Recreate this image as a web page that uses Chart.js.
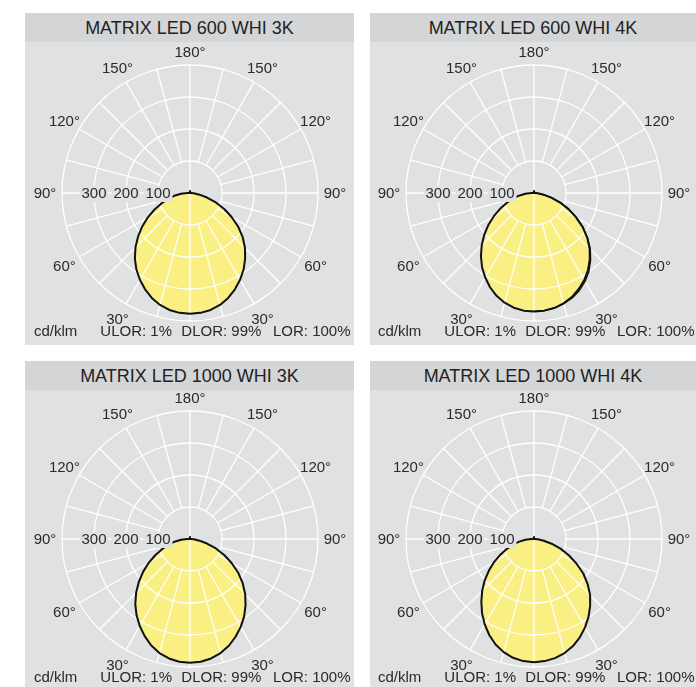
<!DOCTYPE html>
<html><head><meta charset="utf-8">
<script src="https://cdn.jsdelivr.net/npm/chart.js@4.4.1/dist/chart.umd.min.js"></script>
<style>
html,body{margin:0;padding:0;width:696px;height:687px;overflow:hidden;background:#fff;font-family:'Liberation Sans',Arial,sans-serif;}
.panel{position:absolute;background:#e0e1e3;}
.title{position:absolute;left:0;top:0;right:0;height:29px;background:#d4d5d7;color:#222;font-size:18px;line-height:30px;text-align:center;white-space:nowrap;}
canvas{position:absolute;}
</style></head><body>
<div class="panel" style="left:25px;top:13px;width:329px;height:332px"><div class="title" id="t1"></div></div>
<div class="panel" style="left:370px;top:13px;width:326px;height:332px"><div class="title" id="t2"></div></div>
<div class="panel" style="left:25px;top:361px;width:329px;height:326px"><div class="title" id="t3"></div></div>
<div class="panel" style="left:370px;top:361px;width:326px;height:326px"><div class="title" id="t4"></div></div>
<canvas id="c1" width="330" height="330" style="left:25px;top:28px"></canvas>
<canvas id="c2" width="330" height="330" style="left:369px;top:28px"></canvas>
<canvas id="c3" width="330" height="330" style="left:25px;top:374px"></canvas>
<canvas id="c4" width="330" height="330" style="left:369px;top:374px"></canvas>
<script>
// ---- data (cd/klm) ----
const titles = ['MATRIX LED 600 WHI 3K','MATRIX LED 600 WHI 4K','MATRIX LED 1000 WHI 3K','MATRIX LED 1000 WHI 4K'];
const gammaDeg = [0,5,10,15,20,25,30,35,40,45,50,55,60,65,70,75,80,85,90,95,100,105,110,115,120,125,130,135,140,145,150,155,160,165,170,175,180];

const p600_3K_left  = [377,376,371,362,349,332,313,292,268,241,212,182,152,122,95,72,50,28,8,0,0,0,0,0,0,0,0,0,0,0,0,0,0,0,0,0,6];
const p600_3K_right = [377,376,371,362,349,332,313,292,268,243,215,184,150,118,86,55,30,12,3,0,0,0,0,0,0,0,0,0,0,0,0,0,0,0,0,0,6];

const p600_4K_left   = [370,369,364,355,342,325,305,283,258,231,203,174,145,117,91,69,48,27,8,0,0,0,0,0,0,0,0,0,0,0,0,0,0,0,0,0,6];
const p600_4K_right  = [370,369,365,357,346,331,314,294,271,246,217,186,152,119,87,56,30,12,3,0,0,0,0,0,0,0,0,0,0,0,0,0,0,0,0,0,6];
const p600_4K_right2 = [370,369,365,358,349,336,319,299,275,249,218,186,152,119,87,56,30,12,3,0,0,0,0,0,0,0,0,0,0,0,0,0,0,0,0,0,6];

const p1000_3K_left  = [387,385,379,369,354,335,314,291,266,238,209,179,149,120,93,70,49,28,8,0,0,0,0,0,0,0,0,0,0,0,0,0,0,0,0,0,6];
const p1000_3K_right = [387,385,379,369,355,337,317,295,270,244,215,184,150,118,86,55,30,12,3,0,0,0,0,0,0,0,0,0,0,0,0,0,0,0,0,0,6];

const p1000_4K_left  = [385,383,377,366,351,331,308,283,256,229,201,172,144,116,90,68,47,27,8,0,0,0,0,0,0,0,0,0,0,0,0,0,0,0,0,0,6];
const p1000_4K_right = [385,383,378,369,356,339,319,297,273,248,219,188,153,120,88,57,31,12,3,0,0,0,0,0,0,0,0,0,0,0,0,0,0,0,0,0,6];

const gridRings   = [100,200,300,400];
const ringLabels  = [100,200,300];
const angleLabels = [30,60,90,120,150,180];
const unitLabel   = 'cd/klm';
const lorTexts    = ['ULOR: 1%','DLOR: 99%','LOR: 100%'];

// ---- helpers ----
const N = 72; // full circle in 5 degree steps
const circleLabels = [];
for (let i = 0; i < N; i++) circleLabels.push(i <= 36 ? gammaDeg[i] : gammaDeg[N - i]);

function combine(left, right) {
  const out = [];
  for (let i = 0; i < N; i++) out.push(i <= 36 ? left[i] : right[N - i]);
  return out;
}
function rightOnly(right) {
  const out = [];
  for (let i = 0; i < N; i++) out.push(i === 0 ? right[0] : (i <= 36 ? null : right[N - i]));
  return out;
}

const FONT = "'Liberation Sans', Arial, sans-serif";
const TXT = '#2a2a2a';
const PANEL_BG = '#e0e1e3';

const polarPlugin = {
  id: 'polarPlugin',
  afterDatasetDraw(chart, args) {
    if (args.index !== 0) return;
    const s = chart.scales.r, ctx = chart.ctx;
    ctx.save();
    ctx.strokeStyle = '#ffffff';
    ctx.lineWidth = 1.3;
    gridRings.forEach(v => {
      ctx.beginPath();
      ctx.arc(s.xCenter, s.yCenter, s.getDistanceFromCenterForValue(v), 0, Math.PI * 2);
      ctx.stroke();
    });
    const rIn = s.getDistanceFromCenterForValue(gridRings[0]);
    const rOut = s.getDistanceFromCenterForValue(gridRings[gridRings.length - 1]);
    for (let i = 0; i < N; i += 3) {
      const deg = circleLabels[i];
      const a = (deg % 180 === 0) ? 0 : rIn;
      const p1 = s.getPointPosition(i, a), p2 = s.getPointPosition(i, rOut);
      ctx.beginPath();
      ctx.moveTo(p1.x, p1.y);
      ctx.lineTo(p2.x, p2.y);
      ctx.stroke();
    }
    ctx.restore();
  },
  afterDatasetsDraw(chart) {
    const s = chart.scales.r, ctx = chart.ctx;
    const rOut = s.getDistanceFromCenterForValue(gridRings[gridRings.length - 1]);
    ctx.save();
    ctx.font = '15px ' + FONT;
    ctx.fillStyle = TXT;
    ctx.textAlign = 'center';
    ctx.textBaseline = 'middle';
    // angle labels
    angleLabels.forEach(g => {
      const idx = [g / 5];
      if (g !== 180) idx.push((360 - g) / 5);
      idx.forEach(i => {
        const p = s.getPointPosition(i, rOut + (g === 180 ? 13 : 17));
        ctx.fillText(g + '°', p.x, p.y + 1);
      });
    });
    // radial value labels on the left horizontal axis
    ringLabels.forEach(v => {
      const p = s.getPointPosition(18, s.getDistanceFromCenterForValue(v));
      const w = ctx.measureText(String(v)).width;
      ctx.fillStyle = PANEL_BG;
      ctx.fillRect(p.x - w / 2 - 2, p.y - 7, w + 4, 16);
      ctx.fillStyle = TXT;
      ctx.fillText(String(v), p.x, p.y + 1);
    });
    // footer
    ctx.textAlign = 'left';
    const fy = s.yCenter + 139;
    ctx.fillText(unitLabel, s.xCenter - 156, fy);
    const offs = [-89.7, -8.7, 83];
    lorTexts.forEach((t, k) => ctx.fillText(t, s.xCenter + offs[k], fy));
    ctx.restore();
  }
};

function makeChart(id, left, right, right2) {
  const datasets = [
    { data: combine(left, right), backgroundColor: '#f9ef83', borderWidth: 0, fill: 'origin', order: 3 },
    { data: combine(left, right), borderColor: '#111', borderWidth: 2, fill: false, order: 2 }
  ];
  if (right2) datasets.push({ data: rightOnly(right2), borderColor: '#111', borderWidth: 1.4, fill: false, order: 1, spanGaps: false });
  new Chart(document.getElementById(id), {
    type: 'radar',
    data: { labels: circleLabels, datasets },
    options: {
      responsive: false,
      animation: false,
      events: [],
      layout: { padding: 0 },
      elements: { point: { radius: 0, hoverRadius: 0 }, line: { tension: 0, borderJoinStyle: 'round' } },
      plugins: { legend: { display: false }, tooltip: { enabled: false }, title: { display: false } },
      scales: {
        r: {
          min: 0, max: 515.6, startAngle: 180,
          grid: { display: false },
          angleLines: { display: false },
          pointLabels: { display: false },
          ticks: { display: false }
        }
      }
    },
    plugins: [polarPlugin]
  });
}

titles.forEach((t, k) => document.getElementById('t' + (k + 1)).textContent = t);
makeChart('c1', p600_3K_left, p600_3K_right);
makeChart('c2', p600_4K_left, p600_4K_right, p600_4K_right2);
makeChart('c3', p1000_3K_left, p1000_3K_right);
makeChart('c4', p1000_4K_left, p1000_4K_right);
</script>
</body></html>
